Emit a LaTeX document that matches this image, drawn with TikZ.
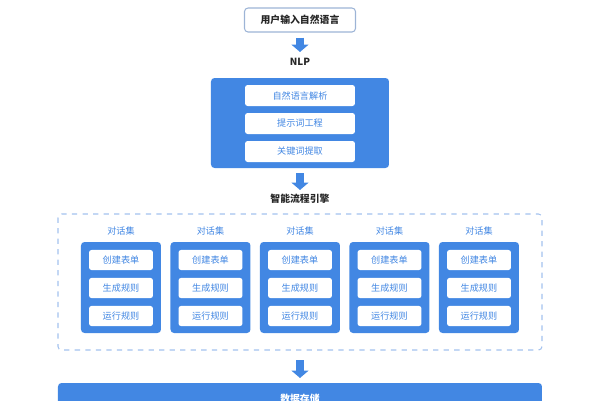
\documentclass[tikz,border=0pt]{standalone}
\usepackage{fontspec}
\newfontfamily\cjk{Noto Sans CJK SC}
\usetikzlibrary{arrows.meta,positioning}
\definecolor{flowblue}{HTML}{4287E3}
\definecolor{dashblue}{HTML}{A3C2EE}
\definecolor{edgegray}{HTML}{9DB4D6}
\tikzset{
  panel/.style={fill=flowblue,rounded corners=2pt,draw=none},
  item/.style={fill=white,rounded corners=1.5pt,minimum width=2.2cm,minimum height=0.42cm,
    font=\cjk\fontsize{5.2}{6}\selectfont,text=flowblue},
  subitem/.style={item,minimum width=1.28cm,minimum height=0.4cm},
  caption/.style={font=\cjk\bfseries\fontsize{5.6}{7}\selectfont,text=black!85},
  setlabel/.style={font=\cjk\fontsize{5.2}{6}\selectfont,text=flowblue},
  bigarrow/.style={draw=flowblue,line width=0.16cm,-{Triangle[width=0.34cm,length=0.15cm]}}
}
\begin{document}
\begin{tikzpicture}[x=0.02cm,y=-0.02cm]
    \useasboundingbox (0,0) rectangle (600,400);
    % input
    \node[draw=edgegray,rounded corners=2pt,line width=0.6pt,minimum width=2.22cm,minimum height=0.48cm,
      caption] (input) at (300,20) {用户输入自然语言};
    \node[caption] (nlp) at (300,62) {NLP};
    \draw[bigarrow] (input.south) ++(0,5) coordinate (a1) -- (300,52) coordinate (a1e);
    % NLP panel
    \fill[panel] (211,78) rectangle (389,168);
    \node[item] (parse) at (300,95.5) {自然语言解析};
    \node[item] (prompt) at (300,123.5) {提示词工程};
    \node[item] (keys) at (300,151.5) {关键词提取};
    \node[caption] (engine) at (300,199) {智能流程引擎};
    \draw[bigarrow] (300,173) coordinate (a2) -- (300,190) coordinate (a2e);
    % engine
    \draw[dashblue,dashed,rounded corners=2pt,line width=0.6pt] (58,214) rectangle (542,350);
    \foreach \i in {0,...,4} {
      \pgfmathsetmacro{\cx}{121+89.5*\i}
      \node[setlabel] (set\i) at (\cx,231) {对话集};
      \fill[panel] (\cx-40,242) rectangle (\cx+40,333);
      \node[subitem] (form\i) at (\cx,260) {创建表单};
      \node[subitem] (gen\i) at (\cx,288) {生成规则};
      \node[subitem] (run\i) at (\cx,316) {运行规则};
    }
    \draw[bigarrow] (300,360) coordinate (a3) -- (300,378) coordinate (a3e);
    % storage
    \fill[panel] (58,383) rectangle (542,420);
    \node[font=\cjk\bfseries\fontsize{5.6}{7}\selectfont,text=white] (store) at (300,399) {数据存储};
  \end{tikzpicture}
\end{document}
